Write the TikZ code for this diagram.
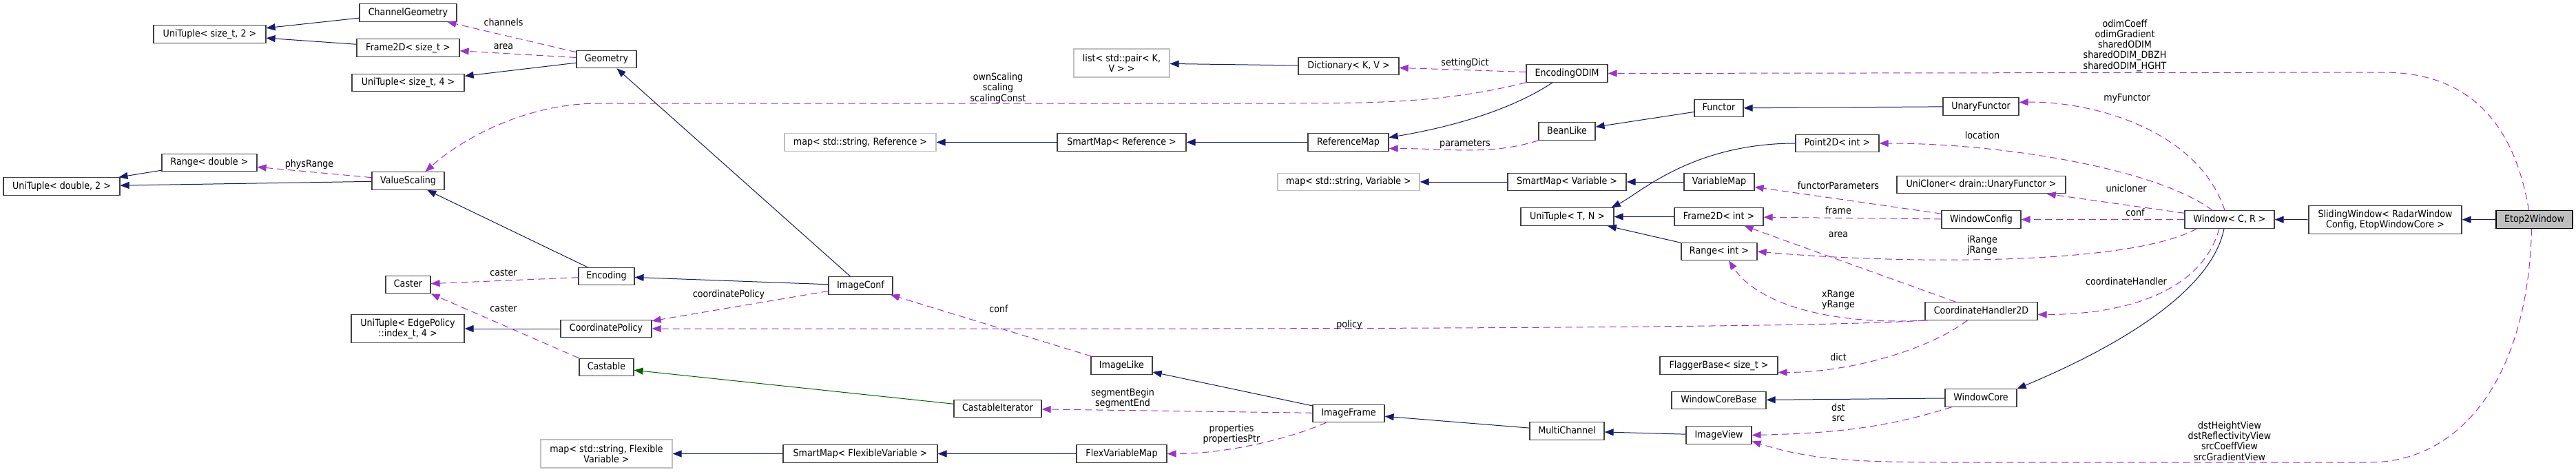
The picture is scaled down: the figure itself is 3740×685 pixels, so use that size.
\documentclass[tikz,border=0pt]{standalone}
\usepackage{fontspec}
\setmainfont{DejaVu Sans}[FakeStretch=0.9]
\usetikzlibrary{arrows.meta}
\definecolor{edgeblue}{HTML}{191970}
\definecolor{edgepurple}{HTML}{9A32CD}
\definecolor{edgegreen}{HTML}{006400}
\definecolor{boxgray}{HTML}{404040}
\definecolor{extgray}{HTML}{BFBFBF}
\begin{document}
\begin{tikzpicture}[x=1pt,y=-1pt,
  every node/.style={font=\fontsize{14.1pt}{15.2pt}\selectfont},
  box/.style={draw=boxgray, line width=1.2pt, fill=white, inner sep=0pt, align=center, minimum height=25.5pt},
  sbox/.style={box, text height=10.3pt, text depth=3pt},
  tall/.style={minimum height=41pt},
  ext/.style={draw=extgray},
  lbl/.style={inner sep=0pt, align=center, text height=10.3pt, text depth=3pt},
  mlbl/.style={inner sep=0pt, align=center},
  inh/.style={draw=edgeblue, line width=1pt, -{Triangle[length=13pt,width=10pt]}},
  inhg/.style={draw=edgegreen, line width=1pt, -{Triangle[length=13pt,width=10pt]}},
  use/.style={draw=edgepurple, line width=1pt, dash pattern=on 10pt off 6pt, -{Triangle[length=13pt,width=10pt]}},
]
\fill[white] (0,0) rectangle (3740,685);
\useasboundingbox (0,0) rectangle (3740,685);

% ---------- nodes ----------
\node[sbox, minimum width=163pt] (utst2) at (304.5,49.5) {UniTuple< size\_t, 2 >};
\node[sbox, minimum width=141pt] (chgeo) at (592.5,18.5) {ChannelGeometry};
\node[sbox, minimum width=149pt] (frst) at (592.5,69.5) {Frame2D< size\_t >};
\node[sbox, minimum width=163pt] (utst4) at (592.5,120) {UniTuple< size\_t, 4 >};
\node[sbox, minimum width=87pt] (geom) at (880.5,86) {Geometry};
\node[sbox, minimum width=138pt] (rngd) at (304,236) {Range< double >};
\node[sbox, minimum width=169pt] (utd2) at (89.5,270.5) {UniTuple< double, 2 >};
\node[sbox, minimum width=105pt] (vscal) at (592.5,262.5) {ValueScaling};
\node[sbox, minimum width=65pt] (caster) at (592.5,413) {Caster};
\node[box, tall, minimum width=164pt] (utep) at (592,477) {UniTuple< EdgePolicy\\::index\_t, 4 >};
\node[sbox, minimum width=81pt] (encoding) at (880.5,401) {Encoding};
\node[sbox, minimum width=132pt] (cpol) at (880,477) {CoordinatePolicy};
\node[sbox, minimum width=79pt] (castable) at (880.5,533) {Castable};
\node[sbox, minimum width=93pt] (imconf) at (1249.5,414.5) {ImageConf};
\node[sbox, ext, minimum width=220pt] (mapref) at (1249,206.5) {map< std::string, Reference >};
\node[box, ext, tall, minimum width=191pt] (mapflex) at (880.5,658.5) {map< std::string, Flexible\\Variable >};
\node[sbox, minimum width=224pt] (smflex) at (1249,658.5) {SmartMap< FlexibleVariable >};
\node[box, ext, tall, minimum width=139pt] (list) at (1628.5,91.5) {list< std::pair< K,\\V > >};
\node[sbox, minimum width=187pt] (smref) at (1628.5,206.5) {SmartMap< Reference >};
\node[sbox, minimum width=89pt] (imlike) at (1628.5,530.5) {ImageLike};
\node[sbox, minimum width=127pt] (castit) at (1448.5,593) {CastableIterator};
\node[sbox, minimum width=131pt] (flexvm) at (1628.5,658.5) {FlexVariableMap};
\node[sbox, minimum width=146pt] (dict) at (1958,96) {Dictionary< K, V >};
\node[sbox, minimum width=118pt] (encodim) at (2275,106.5) {EncodingODIM};
\node[sbox, minimum width=117pt] (refmap) at (1957.5,206.5) {ReferenceMap};
\node[sbox, minimum width=82pt] (bean) at (2275,190.5) {BeanLike};
\node[sbox, minimum width=71pt] (functor) at (2495.5,157) {Functor};
\node[sbox, ext, minimum width=206pt] (mapvar) at (1958,264) {map< std::string, Variable >};
\node[sbox, minimum width=172pt] (smvar) at (2275,264) {SmartMap< Variable >};
\node[sbox, minimum width=102pt] (varmap) at (2496,264) {VariableMap};
\node[sbox, minimum width=135pt] (uttn) at (2275.5,314.5) {UniTuple< T, N >};
\node[sbox, minimum width=129pt] (frint) at (2495.5,314.5) {Frame2D< int >};
\node[sbox, minimum width=110pt] (rngint) at (2496,365) {Range< int >};
\node[sbox, minimum width=171pt] (flagger) at (2495.5,530.5) {FlaggerBase< size\_t >};
\node[sbox, minimum width=137pt] (wcbase) at (2495.5,581) {WindowCoreBase};
\node[sbox, minimum width=104pt] (imframe) at (1958,600) {ImageFrame};
\node[sbox, minimum width=108pt] (multich) at (2275,625.5) {MultiChannel};
\node[sbox, minimum width=95pt] (imview) at (2495.5,631.5) {ImageView};
\node[sbox, minimum width=110pt] (ufunctor) at (2876,154.5) {UnaryFunctor};
\node[sbox, minimum width=121pt] (ptint) at (2667.5,208) {Point2D< int >};
\node[sbox, minimum width=245pt] (unicl) at (2876.5,268) {UniCloner< drain::UnaryFunctor >};
\node[sbox, minimum width=115pt] (wconf) at (2876.5,318.5) {WindowConfig};
\node[sbox, minimum width=163pt] (chtwod) at (2876.5,451.5) {CoordinateHandler2D};
\node[sbox, minimum width=104pt] (wcore) at (2876,577.5) {WindowCore};
\node[sbox, minimum width=130pt] (window) at (3237,318.5) {Window< C, R >};
\node[box, tall, minimum width=222pt] (sliding) at (3463,319) {SlidingWindow< RadarWindow\\Config, EtopWindowCore >};
\node[sbox, minimum width=111pt, fill=extgray, draw=black] (etop) at (3679.5,318.5) {Etop2Window};

% ---------- inheritance edges ----------
\draw[inh] (chgeo) -- (utst2);
\draw[inh] (frst) -- (utst2);
\draw[inh] (geom) -- (utst4);
\draw[inh] (rngd) -- (utd2);
\draw[inh] (vscal) -- (utd2);
\draw[inh] (encoding) -- (vscal);
\draw[inh] (cpol) -- (utep);
\draw[inh] (imconf) -- (encoding);
\draw[inh] (imconf) -- (geom);
\draw[inhg] (castit) -- (castable);
\draw[inh] (smflex) -- (mapflex);
\draw[inh] (flexvm) -- (smflex);
\draw[inh] (smref) -- (mapref);
\draw[inh] (refmap) -- (smref);
\draw[inh] (dict) -- (list);
\draw[inh] ([xshift=-21pt]encodim.south) .. controls +(-60,40) and +(90,-15) .. ([yshift=7pt]refmap.east);
\draw[inh] (functor) -- (bean);
\draw[inh] (ufunctor) -- (functor);
\draw[inh] (smvar) -- (mapvar);
\draw[inh] (varmap) -- (smvar);
\draw[inh] (frint) -- (uttn);
\draw[inh] (ptint.west) .. controls +(-150,0) and +(40,-20) .. ([xshift=-4pt]uttn.north east);
\draw[inh] (rngint) -- (uttn);
\draw[inh] (wcore) -- (wcbase);
\draw[inh] (imview) -- (multich);
\draw[inh] (multich) -- (imframe);
\draw[inh] (imframe) -- (imlike);
\draw[inh] ([xshift=-8pt]window.south) .. controls +(-20,100) and +(120,-50) .. (wcore.north east);
\draw[inh] (sliding) -- (window);
\draw[inh] (etop) -- (sliding);

% ---------- usage edges ----------
\draw[use] (geom) -- (chgeo);
\draw[use] (geom) -- (frst);
\draw[use] (vscal) -- (rngd);
\draw[use] (encoding) -- (caster);
\draw[use] (castable.north west) -- (caster.south east);
\draw[use] (imconf) -- (cpol);
\draw[use] (imlike) -- (imconf);
\draw[use] (imframe) -- (castit);
\draw[use] ([xshift=20pt]imframe.south west) .. controls +(-50,22) and +(90,0) .. (flexvm.east);
\draw[use] (encodim) -- (dict);
\draw[use] (encodim.south west) .. controls +(-120,30) and +(130,0) .. (1860,150) -- (870,150) .. controls +(-110,0) and +(50,-45) .. ([xshift=25pt]vscal.north);
\draw[use] (bean.south west) .. controls +(-70,22) and +(90,0) .. ([yshift=-9pt]refmap.east);
\draw[use] (wconf) -- (varmap);
\draw[use] (wconf) -- (frint);
\draw[use] (chtwod) -- (frint);
\draw[use] ([xshift=5pt]chtwod.south west) .. controls +(-150,8) and +(40,60) .. ([xshift=14pt]rngint.south);
\draw[use] (chtwod.south west) .. controls +(-200,15) and +(400,0) .. (cpol.east);
\draw[use] ([xshift=-20pt]chtwod.south) .. controls +(-60,45) and +(100,0) .. ([yshift=-10pt]flagger.east);
\draw[use] ([xshift=10pt]wcore.south west) .. controls +(-90,28) and +(130,-3) .. (imview.east);
\draw[use] ([xshift=-7pt]window.north) .. controls +(-40,-120) and +(100,-2) .. ([yshift=6pt]ufunctor.east);
\draw[use] ([xshift=-25pt]window.north) .. controls +(-80,-60) and +(180,0) .. (ptint.east);
\draw[use] (window) -- (unicl);
\draw[use] (window) -- (wconf);
\draw[use] ([xshift=18pt]window.south west) .. controls +(-100,55) and +(200,18) .. (rngint.east);
\draw[use] ([xshift=-15pt]window.south) .. controls +(-25,90) and +(130,0) .. ([yshift=-5pt]chtwod.east);
\draw[use] ([xshift=-8pt]etop.north) .. controls +(-20,-120) and +(130,0) .. (3460,105) -- (encodim.east);
\draw[use] ([xshift=-4pt]etop.south) .. controls +(-5,220) and +(130,0) .. (3440,671) -- (2830,671) .. controls +(-150,0) and +(80,25) .. ([yshift=-9pt]imview.east);

% ---------- labels ----------
\node[lbl] (lchannels) at (731,34) {channels};
\node[lbl] (lareaA) at (731,68) {area};
\node[lbl] (lphys) at (449,239) {physRange};
\node[lbl] (lcasterA) at (731,397) {caster};
\node[lbl] (lcasterB) at (731,449) {caster};
\node[lbl] (lcpol) at (1058,428) {coordinatePolicy};
\node[mlbl] (lscal) at (1449,128) {ownScaling\\scaling\\scalingConst};
\node[lbl] (lconfA) at (1450,450) {conf};
\node[mlbl] (lseg) at (1630,578) {segmentBegin\\segmentEnd};
\node[mlbl] (lprop) at (1788,630) {properties\\propertiesPtr};
\node[lbl] (lsetting) at (2127,92) {settingDict};
\node[lbl] (lparam) at (2127,209) {parameters};
\node[lbl] (lpolicy) at (1959,472) {policy};
\node[mlbl] (lodim) at (3085,66) {odimCoeff\\odimGradient\\sharedODIM\\sharedODIM\_DBZH\\sharedODIM\_HGHT};
\node[lbl] (lmyf) at (3088,143) {myFunctor};
\node[lbl] (lloc) at (2878,198) {location};
\node[lbl] (lfpar) at (2669,271) {functorParameters};
\node[lbl] (luni) at (3087,275) {unicloner};
\node[lbl] (lframe) at (2669,307) {frame};
\node[lbl] (lconfB) at (3100,310) {conf};
\node[lbl] (lareaB) at (2669,341) {area};
\node[mlbl] (lij) at (2878,356) {iRange\\jRange};
\node[mlbl] (lxy) at (2669,435.5) {xRange\\yRange};
\node[lbl] (lch) at (3087,410) {coordinateHandler};
\node[lbl] (ldict) at (2669,520) {dict};
\node[mlbl] (ldst) at (2669,599) {dst\\src};
\node[mlbl] (lviews) at (3237,640) {dstHeightView\\dstReflectivityView\\srcCoeffView\\srcGradientView};
\end{tikzpicture}
\end{document}
